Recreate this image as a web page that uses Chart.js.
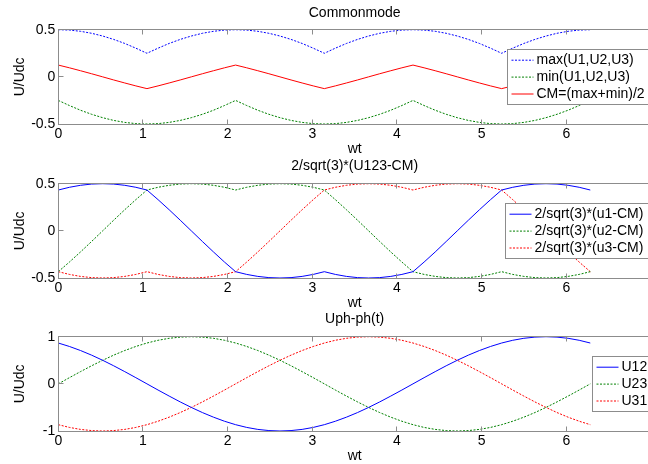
<!DOCTYPE html>
<html>
<head>
<meta charset="utf-8">
<script src="https://cdn.jsdelivr.net/npm/chart.js@4/dist/chart.umd.min.js"></script>
<style>
  html, body { margin: 0; padding: 0; width: 648px; height: 464px; overflow: hidden; background: #fff; }
  canvas { position: absolute; left: 0; }
</style>
</head>
<body>
<canvas id="cm" width="660" height="158" style="top:0px"></canvas>
<canvas id="ph" width="660" height="158" style="top:154px"></canvas>
<canvas id="ll" width="660" height="158" style="top:307px"></canvas>
<script>
// wt axis (rad), one sample every 7.5 deg
var wt = [0,0.131,0.262,0.393,0.524,0.654,0.785,0.916,1.047,1.178,1.309,1.44,1.571,1.702,1.833,1.963,
  2.094,2.225,2.356,2.487,2.618,2.749,2.88,3.011,3.142,3.272,3.403,3.534,3.665,3.796,3.927,4.058,
  4.189,4.32,4.451,4.581,4.712,4.843,4.974,5.105,5.236,5.367,5.498,5.629,5.76,5.89,6.021,6.152,6.283];

// Commonmode
var uMax = [0.5,0.496,0.483,0.462,0.433,0.397,0.354,0.304,0.25,0.304,0.354,0.397,0.433,0.462,0.483,0.496,
  0.5,0.496,0.483,0.462,0.433,0.397,0.354,0.304,0.25,0.304,0.354,0.397,0.433,0.462,0.483,0.496,
  0.5,0.496,0.483,0.462,0.433,0.397,0.354,0.304,0.25,0.304,0.354,0.397,0.433,0.462,0.483,0.496,0.5];
var uMin = [-0.25,-0.304,-0.354,-0.397,-0.433,-0.462,-0.483,-0.496,-0.5,-0.496,-0.483,-0.462,-0.433,-0.397,-0.354,-0.304,
  -0.25,-0.304,-0.354,-0.397,-0.433,-0.462,-0.483,-0.496,-0.5,-0.496,-0.483,-0.462,-0.433,-0.397,-0.354,-0.304,
  -0.25,-0.304,-0.354,-0.397,-0.433,-0.462,-0.483,-0.496,-0.5,-0.496,-0.483,-0.462,-0.433,-0.397,-0.354,-0.304,-0.25];
var uCM = [0.125,0.096,0.065,0.033,0,-0.033,-0.065,-0.096,-0.125,-0.096,-0.065,-0.033,0,0.033,0.065,0.096,
  0.125,0.096,0.065,0.033,0,-0.033,-0.065,-0.096,-0.125,-0.096,-0.065,-0.033,0,0.033,0.065,0.096,
  0.125,0.096,0.065,0.033,0,-0.033,-0.065,-0.096,-0.125,-0.096,-0.065,-0.033,0,0.033,0.065,0.096,0.125];

// 2/sqrt(3)*(U123-CM)
var v1 = [0.433,0.462,0.483,0.496,0.5,0.496,0.483,0.462,
  0.433,0.331,0.224,0.113,0,-0.113,-0.224,-0.331,
  -0.433,-0.462,-0.483,-0.496,-0.5,-0.496,-0.483,-0.462,
  -0.433,-0.462,-0.483,-0.496,-0.5,-0.496,-0.483,-0.462,
  -0.433,-0.331,-0.224,-0.113,0,0.113,0.224,0.331,
  0.433,0.462,0.483,0.496,0.5,0.496,0.483,0.462,0.433];
var v2 = [-0.433,-0.331,-0.224,-0.113,0,0.113,0.224,0.331,
  0.433,0.462,0.483,0.496,0.5,0.496,0.483,0.462,
  0.433,0.462,0.483,0.496,0.5,0.496,0.483,0.462,
  0.433,0.331,0.224,0.113,0,-0.113,-0.224,-0.331,
  -0.433,-0.462,-0.483,-0.496,-0.5,-0.496,-0.483,-0.462,
  -0.433,-0.462,-0.483,-0.496,-0.5,-0.496,-0.483,-0.462,-0.433];
var v3 = [-0.433,-0.462,-0.483,-0.496,-0.5,-0.496,-0.483,-0.462,
  -0.433,-0.462,-0.483,-0.496,-0.5,-0.496,-0.483,-0.462,
  -0.433,-0.331,-0.224,-0.113,0,0.113,0.224,0.331,
  0.433,0.462,0.483,0.496,0.5,0.496,0.483,0.462,
  0.433,0.462,0.483,0.496,0.5,0.496,0.483,0.462,
  0.433,0.331,0.224,0.113,0,-0.113,-0.224,-0.331,-0.433];

// Uph-ph(t)
var u12 = [0.866,0.793,0.707,0.609,0.5,0.383,0.259,0.131,
  0,-0.131,-0.259,-0.383,-0.5,-0.609,-0.707,-0.793,
  -0.866,-0.924,-0.966,-0.991,-1,-0.991,-0.966,-0.924,
  -0.866,-0.793,-0.707,-0.609,-0.5,-0.383,-0.259,-0.131,
  0,0.131,0.259,0.383,0.5,0.609,0.707,0.793,
  0.866,0.924,0.966,0.991,1,0.991,0.966,0.924,0.866];
var u23 = [0,0.131,0.259,0.383,0.5,0.609,0.707,0.793,
  0.866,0.924,0.966,0.991,1,0.991,0.966,0.924,
  0.866,0.793,0.707,0.609,0.5,0.383,0.259,0.131,
  0,-0.131,-0.259,-0.383,-0.5,-0.609,-0.707,-0.793,
  -0.866,-0.924,-0.966,-0.991,-1,-0.991,-0.966,-0.924,
  -0.866,-0.793,-0.707,-0.609,-0.5,-0.383,-0.259,-0.131,0];
var u31 = [-0.866,-0.924,-0.966,-0.991,-1,-0.991,-0.966,-0.924,
  -0.866,-0.793,-0.707,-0.609,-0.5,-0.383,-0.259,-0.131,
  0,0.131,0.259,0.383,0.5,0.609,0.707,0.793,
  0.866,0.924,0.966,0.991,1,0.991,0.966,0.924,
  0.866,0.793,0.707,0.609,0.5,0.383,0.259,0.131,
  0,-0.131,-0.259,-0.383,-0.5,-0.609,-0.707,-0.793,-0.866];

var FONT = "'Liberation Sans', Arial, Helvetica, sans-serif";
var axisGrey = '#8c8c8c';
var dotted = [2, 1.5];

Chart.defaults.color = '#000';
Chart.defaults.font.family = FONT;
Chart.defaults.font.size = 14;

// matlab style box with inward ticks
var matlabAxes = {
  id: 'matlabAxes',
  afterDatasetsDraw: function(chart) {
    var ctx = chart.ctx, a = chart.chartArea;
    var L = Math.floor(a.left) + 0.5, R = Math.floor(a.right) + 0.5;
    var T = Math.floor(a.top) + 0.5, B = Math.floor(a.bottom) + 0.5;
    var sx = chart.scales.x, sy = chart.scales.y;
    ctx.save();
    ctx.strokeStyle = axisGrey;
    ctx.lineWidth = 1;
    ctx.strokeRect(L, T, R - L, B - T);
    ctx.beginPath();
    sx.ticks.forEach(function(t) {
      var px = Math.floor(sx.getPixelForValue(t.value)) + 0.5;
      ctx.moveTo(px, B); ctx.lineTo(px, B - 5);
      ctx.moveTo(px, T); ctx.lineTo(px, T + 5);
    });
    sy.ticks.forEach(function(t) {
      var py = Math.floor(sy.getPixelForValue(t.value)) + 0.5;
      ctx.moveTo(L, py); ctx.lineTo(L + 5, py);
      ctx.moveTo(R, py); ctx.lineTo(R - 5, py);
    });
    ctx.stroke();
    ctx.restore();
  }
};

// legend box inside the axes, right side, vertically centred
var boxLegend = {
  id: 'boxLegend',
  afterDraw: function(chart, args, opts) {
    var ctx = chart.ctx, a = chart.chartArea;
    var h = 55, rowH = 16.9;
    var top = Math.floor((a.top + a.bottom) / 2 - h / 2) + 0.5;
    var left = Math.floor(opts.left) + 0.5;
    var right = a.right - 1.5;
    ctx.save();
    ctx.fillStyle = '#fff';
    ctx.fillRect(left, top, right - left, h);
    ctx.strokeStyle = axisGrey;
    ctx.lineWidth = 1;
    ctx.strokeRect(left, top, right - left, h);
    ctx.font = '14px ' + FONT;
    ctx.textBaseline = 'middle';
    chart.data.datasets.forEach(function(ds, i) {
      var y = top + 10.7 + i * rowH;
      ctx.strokeStyle = ds.borderColor;
      ctx.setLineDash(ds.borderDash || []);
      ctx.beginPath();
      ctx.moveTo(left + 4, y);
      ctx.lineTo(left + 26, y);
      ctx.stroke();
      ctx.setLineDash([]);
      ctx.fillStyle = '#000';
      ctx.fillText(ds.label, left + 29, y);
    });
    ctx.restore();
  }
};

function subplot(id, title, titlePad, yLim, series, legendLeft) {
  var sets = series.map(function(s) {
    return {
      label: s.label,
      data: wt.map(function(x, i) { return { x: x, y: s.values[i] }; }),
      borderColor: s.color,
      borderDash: s.dash,
      borderWidth: 1,
      pointRadius: 0,
      fill: false,
      tension: 0
    };
  });
  return new Chart(document.getElementById(id), {
    type: 'line',
    data: { datasets: sets },
    options: {
      responsive: false,
      animation: false,
      devicePixelRatio: 1,
      layout: { padding: { left: 0, right: 9, top: 0, bottom: 0 } },
      plugins: {
        legend: { display: false },
        tooltip: { enabled: false },
        boxLegend: { left: legendLeft }
      },
      scales: {
        x: {
          type: 'linear', position: 'bottom', min: 0, max: 7,
          grid: { display: false, drawTicks: false },
          border: { display: false },
          ticks: {
            stepSize: 1, padding: 2, maxRotation: 0, autoSkip: false,
            callback: function(v) { return v > 6 ? '' : v; }
          },
          title: { display: true, text: 'wt', padding: { top: 0, bottom: 0 } },
          afterFit: function(s) { s.height = 34; }
        },
        xTop: {
          type: 'linear', position: 'top', min: 0, max: 7,
          grid: { display: false, drawTicks: false },
          border: { display: false },
          ticks: { display: false },
          title: { display: true, text: title, padding: { top: titlePad, bottom: 0 } },
          afterFit: function(s) { s.height = 29.7; }
        },
        y: {
          min: -yLim, max: yLim,
          grid: { display: false, drawTicks: false },
          border: { display: false },
          ticks: { stepSize: yLim, padding: 3 },
          title: { display: true, text: 'U/Udc', padding: { top: 12, bottom: 0 } },
          afterFit: function(s) { s.width = 58.3; }
        }
      }
    },
    plugins: [matlabAxes, boxLegend]
  });
}

subplot('cm', 'Commonmode', 5, 0.5, [
  { label: 'max(U1,U2,U3)', values: uMax, color: '#0000ff', dash: dotted },
  { label: 'min(U1,U2,U3)', values: uMin, color: '#008000', dash: dotted },
  { label: 'CM=(max+min)/2', values: uCM, color: '#ff0000', dash: [] }
], 507.3);

subplot('ph', '2/sqrt(3)*(U123-CM)', 3.6, 0.5, [
  { label: '2/sqrt(3)*(u1-CM)', values: v1, color: '#0000ff', dash: [] },
  { label: '2/sqrt(3)*(u2-CM)', values: v2, color: '#008000', dash: dotted },
  { label: '2/sqrt(3)*(u3-CM)', values: v3, color: '#ff0000', dash: dotted }
], 505.7);

subplot('ll', 'Uph-ph(t)', 4.2, 1, [
  { label: 'U12', values: u12, color: '#0000ff', dash: [] },
  { label: 'U23', values: u23, color: '#008000', dash: dotted },
  { label: 'U31', values: u31, color: '#ff0000', dash: dotted }
], 592.3);
</script>
</body>
</html>
